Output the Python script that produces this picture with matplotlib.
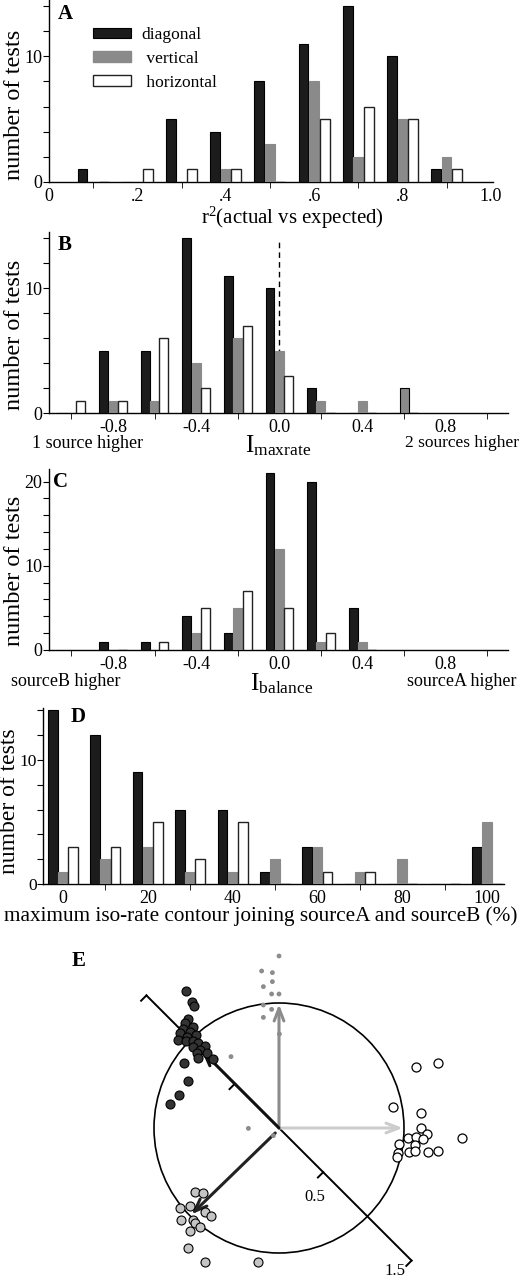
import numpy as np
import matplotlib
matplotlib.use("Agg")
import matplotlib.pyplot as plt
from matplotlib.patches import Patch, Circle
from matplotlib.ticker import FixedLocator, NullFormatter

plt.rcParams['font.family'] = ['Liberation Serif', 'DejaVu Serif']
plt.rcParams['mathtext.fontset'] = 'stix'

W, H = 521, 1280

# ---- data ----
# A: r^2 histogram
a_centers = [0.1, 0.2, 0.3, 0.4, 0.5, 0.6, 0.7, 0.8, 0.9]
a_diag = [1, 0, 5, 4, 8, 11, 14, 10, 1]
a_vert = [0, 0, 0, 1, 3, 8, 2, 5, 2]
a_horz = [0, 1, 1, 1, 0, 5, 6, 5, 1]

# B: I_maxrate
b_centers = [-1.0, -0.8, -0.6, -0.4, -0.2, 0.0, 0.2, 0.4, 0.6]
b_diag = [0, 5, 5, 14, 11, 10, 2, 0, 0]
b_vert = [0, 1, 1, 4, 6, 5, 1, 1, 2]
b_horz = [1, 1, 6, 2, 7, 3, 0, 0, 0]

# C: I_balance
c_centers = [-0.8, -0.6, -0.4, -0.2, 0.0, 0.2, 0.4]
c_diag = [1, 1, 4, 2, 21, 20, 5]
c_vert = [0, 0, 2, 5, 12, 1, 1]
c_horz = [0, 1, 5, 7, 5, 2, 0]

# D: maximum iso-rate contour (%)
d_centers = [0, 10, 20, 30, 40, 50, 60, 70, 80, 90, 100]
d_diag = [14, 12, 9, 6, 6, 1, 3, 0, 0, 0, 3]
d_vert = [1, 2, 3, 1, 1, 2, 3, 1, 2, 0, 5]
d_horz = [3, 3, 5, 2, 5, 0, 1, 1, 0, 0, 0]

# E: polar scatter (unit circle = 1)
e_dark_x = [-0.744, -0.699, -0.680, -0.725, -0.752, -0.685, -0.765, -0.712, -0.667, -0.792,
            -0.733, -0.805, -0.744, -0.691, -0.645, -0.685, -0.592, -0.632, -0.659, -0.579,
            -0.645, -0.525, -0.760, -0.725, -0.800, -0.872]
e_dark_y = [1.099, 1.011, 0.979, 0.872, 0.837, 0.811, 0.789, 0.771, 0.744, 0.757,
            0.731, 0.704, 0.699, 0.699, 0.677, 0.651, 0.656, 0.624, 0.597, 0.597,
            0.557, 0.549, 0.523, 0.379, 0.264, 0.192]
e_open_x = [1.096, 1.275, 0.909, 1.133, 1.133, 1.181, 1.035, 1.096, 1.155, 1.461,
            0.963, 1.088, 0.955, 1.043, 1.088, 1.195, 1.269, 0.941]
e_open_y = [0.491, 0.523, 0.171, 0.123, -0.003, -0.051, -0.077, -0.069, -0.091, -0.083,
            -0.128, -0.136, -0.197, -0.189, -0.184, -0.189, -0.184, -0.235]
e_dot_x = [0.0, -0.139, -0.053, -0.125, -0.053, -0.059, 0.0, -0.125, -0.059, -0.125,
           0.003, -0.384, -0.245, -0.045]
e_dot_y = [1.376, 1.256, 1.243, 1.131, 1.171, 1.072, 1.072, 0.984, 0.949, 0.885,
           0.752, 0.571, -0.003, -0.061]
e_light_x = [-0.672, -0.611, -0.792, -0.712, -0.592, -0.547, -0.784, -0.685, -0.672, -0.632,
             -0.712, -0.731, -0.592, -0.165]
e_light_y = [-0.509, -0.523, -0.643, -0.624, -0.669, -0.704, -0.736, -0.736, -0.763, -0.789,
             -0.821, -0.963, -1.075, -1.069]

DARK = '#1c1c1c'
GREY = '#8a8a8a'
EDGE = '#222222'


def px_axes(left, top, right, bottom):
    return fig.add_axes([left / W, 1 - bottom / H, (right - left) / W, (bottom - top) / H])


def ftext(x, y, s, **kw):
    fig.text(x / W, 1 - y / H, s, **kw)


def bars(ax, centers, diag, vert, horz, off, w):
    c = np.array(centers, dtype=float)
    ax.bar(c - off, diag, w, color=DARK, edgecolor='black', linewidth=0.8, zorder=3)
    ax.bar(c, vert, w, color=GREY, edgecolor=GREY, linewidth=0.8, zorder=3)
    ax.bar(c + off, horz, w, color='white', edgecolor=EDGE, linewidth=1.0, zorder=3)


def style(ax, ylim, ymajor, ylabels, xlabpos, xlabs, xminor, xlim):
    ax.set_xlim(*xlim)
    ax.set_ylim(*ylim)
    for s in ['top', 'right']:
        ax.spines[s].set_visible(False)
    for s in ['left', 'bottom']:
        ax.spines[s].set_linewidth(1.0)
    ax.yaxis.set_major_locator(FixedLocator(ymajor))
    ax.set_yticklabels([str(v) if v in ylabels else '' for v in ymajor])
    ax.xaxis.set_major_locator(FixedLocator(xlabpos))
    ax.set_xticklabels(xlabs)
    ax.xaxis.set_minor_locator(FixedLocator(xminor))
    ax.xaxis.set_minor_formatter(NullFormatter())
    ax.tick_params(axis='x', which='major', length=0, labelsize=13, pad=4)
    ax.tick_params(axis='x', which='minor', length=4, direction='out')
    ax.tick_params(axis='y', length=4, direction='out', labelsize=13, pad=1)


fig = plt.figure(figsize=(W / 100, H / 100), dpi=100)

# ---- A ----
axA = px_axes(49, 0, 493, 182)
bars(axA, a_centers, a_diag, a_vert, a_horz, 0.024, 0.022)
style(axA, (0, 14.48), list(range(0, 15, 2)), [0, 10],
      [0, 0.2, 0.4, 0.6, 0.8, 1.0], ['0', '.2', '.4', '.6', '.8', '1.0'],
      [0.1, 0.3, 0.5, 0.7, 0.9], (0, 1.005))
ftext(65, 14, 'A', fontsize=15, fontweight='bold', va='center', ha='center')
handles = [Patch(facecolor=DARK, edgecolor='black', linewidth=0.8),
           Patch(facecolor=GREY, edgecolor=GREY),
           Patch(facecolor='white', edgecolor=EDGE, linewidth=1.0)]
axA.legend(handles, ['diagonal', ' vertical', ' horizontal'], loc='upper left',
           bbox_to_anchor=(44 / 444, 1 - 27 / 182), frameon=False, fontsize=12.5,
           handlelength=2.2, handleheight=0.55, labelspacing=0.45, handletextpad=0.6,
           borderaxespad=0, borderpad=0)
ftext(292, 218, r'$\mathregular{r^2}$(actual vs expected)', fontsize=15, ha='center', va='center')
ftext(15, 105, 'number of tests', fontsize=17.5, rotation=90, ha='center', va='center')

# ---- B ----
axB = px_axes(49, 232, 508, 413)
bars(axB, b_centers, b_diag, b_vert, b_horz, 0.045, 0.043)
axB.patches[-10].set_edgecolor('black')  # vertical bar at 0.6 has an outline
style(axB, (0, 14.5), list(range(0, 15, 2)), [0, 10],
      [-0.8, -0.4, 0.0, 0.4, 0.8], ['-0.8', '-0.4', '0.0', '0.4', '0.8'],
      [-1.0, -0.6, -0.2, 0.2, 0.6, 1.0], (-1.108, 1.10))
axB.axvline(0.0, ymin=0, ymax=(413 - 240) / 181, color='black', linestyle=(0, (4, 3)),
            linewidth=1.0, zorder=2)
ftext(65, 245, 'B', fontsize=15, fontweight='bold', va='center', ha='center')
ftext(88, 443, '1 source higher', fontsize=13, ha='center', va='center')
ftext(462, 443, '2 sources higher', fontsize=12.5, ha='center', va='center')
ftext(278, 446, r'$\mathregular{I_{maxrate}}$', fontsize=18, ha='center', va='center')
ftext(15, 335, 'number of tests', fontsize=17.5, rotation=90, ha='center', va='center')

# ---- C ----
axC = px_axes(49, 469, 508, 650)
bars(axC, c_centers, c_diag, c_vert, c_horz, 0.045, 0.043)
style(axC, (0, 21.5), list(range(0, 22, 2)), [0, 10, 20],
      [-0.8, -0.4, 0.0, 0.4, 0.8], ['-0.8', '-0.4', '0.0', '0.4', '0.8'],
      [-1.0, -0.6, -0.2, 0.2, 0.6, 1.0], (-1.108, 1.10))
ftext(60, 482, 'C', fontsize=15, fontweight='bold', va='center', ha='center')
ftext(66, 681, 'sourceB higher', fontsize=13, ha='center', va='center')
ftext(462, 681, 'sourceA higher', fontsize=13, ha='center', va='center')
ftext(282, 684, r'$\mathregular{I_{balance}}$', fontsize=18, ha='center', va='center')
ftext(15, 571, 'number of tests', fontsize=17.5, rotation=90, ha='center', va='center')

# ---- D ----
axD = px_axes(43, 708, 504, 884)
bars(axD, d_centers, d_diag, d_vert, d_horz, 2.4, 2.3)
style(axD, (0, 14.2), list(range(0, 15, 2)), [0, 10],
      [0, 20, 40, 60, 80, 100], ['0', '20', '40', '60', '80', '100'],
      [10, 30, 50, 70, 90], (-4.7, 104))
axD.tick_params(axis='y', labelsize=12.5, pad=0.5)
ftext(78, 717, 'D', fontsize=15, fontweight='bold', va='center', ha='center')
ftext(261, 916, 'maximum iso-rate contour joining sourceA and sourceB (%)',
      fontsize=15.3, ha='center', va='center')
ftext(10, 801, 'number of tests', fontsize=17, rotation=90, ha='center', va='center')

# ---- E ----
axE = px_axes(0, 930, W, H)
cx, cy, scale = 279, 1128, 125
axE.set_xlim(-cx / scale, (W - cx) / scale)
axE.set_ylim(-(H - cy) / scale, (cy - 930) / scale)
axE.axis('off')
axE.add_patch(Circle((0, 0), 1.0, fill=False, edgecolor='black', linewidth=1.2, zorder=2))
u = np.array([-1, 1]) / np.sqrt(2)
perp = np.array([-1, -1]) / np.sqrt(2)
axE.plot([1.5 * u[0], -1.5 * u[0]], [1.5 * u[1], -1.5 * u[1]], color='black', lw=1.4, zorder=2)
for t in [1.5, 0.5, -0.5, -1.5]:
    p = t * u
    axE.plot([p[0], p[0] + 0.06 * perp[0]], [p[1], p[1] + 0.06 * perp[1]], color='black', lw=1.4, zorder=2)
axE.text(0.29, -0.55, '0.5', fontsize=12, ha='center', va='center')
axE.text(0.93, -1.145, '1.5', fontsize=12, ha='center', va='center')

arrow_style = '->,head_length=0.9,head_width=0.35'
for (x0, y0, x1, y1, col) in [(0, 0, 0, 0.99, '#8c8c8c'),
                              (0, 0, 0.99, 0, '#cccccc'),
                              (-0.03, -0.04, -0.70, -0.69, '#222222'),
                              (0, 0, -0.62, 0.62, '#111111')]:
    axE.annotate('', xy=(x1, y1), xytext=(x0, y0),
                 arrowprops=dict(arrowstyle=arrow_style, color=col, lw=2.2,
                                 shrinkA=0, shrinkB=0), zorder=3)

axE.scatter(e_dark_x, e_dark_y, s=42, c='#333333', edgecolors='black', linewidths=0.8, zorder=4)
axE.scatter(e_open_x, e_open_y, s=42, c='white', edgecolors='black', linewidths=0.9, zorder=4)
axE.scatter(e_light_x, e_light_y, s=42, c='#c4c4c4', edgecolors='black', linewidths=0.8, zorder=4)
axE.scatter(e_dot_x, e_dot_y, s=12, c='#8c8c8c', edgecolors='none', zorder=5)
ftext(79, 961, 'E', fontsize=15, fontweight='bold', va='center', ha='center')

fig.savefig('out.png', dpi=100)
